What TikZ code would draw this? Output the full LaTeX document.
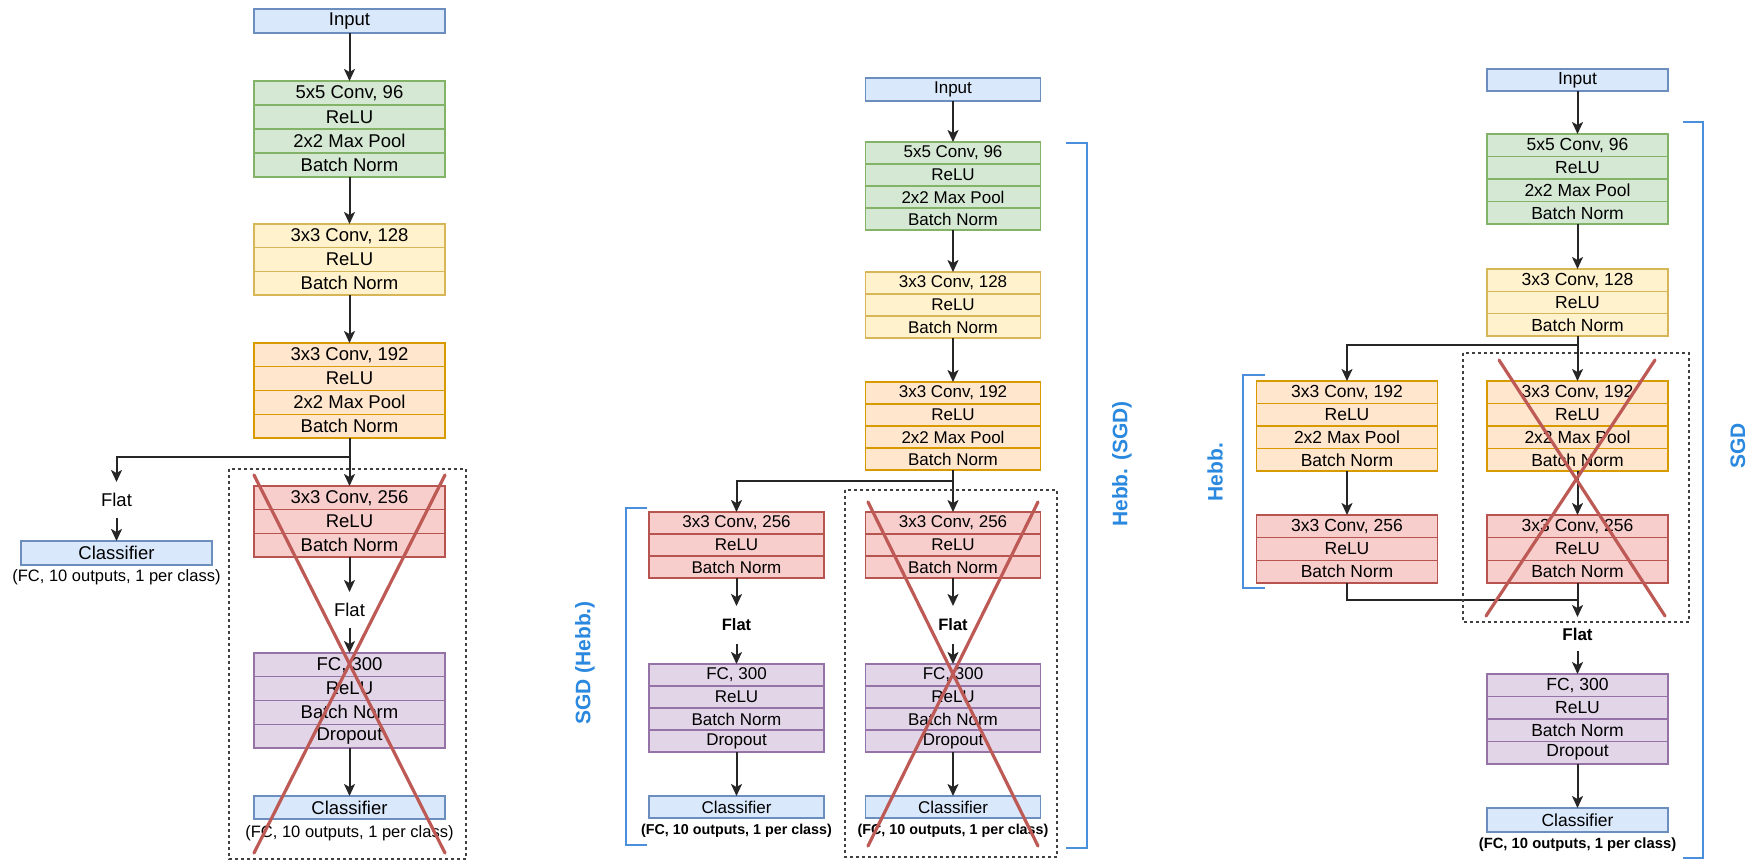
\documentclass[tikz,border=0pt]{standalone}
\usepackage{fontspec}
\setmainfont{Liberation Sans}
\usetikzlibrary{arrows.meta}

\definecolor{inFill}{HTML}{DAE8FC}\definecolor{inLine}{HTML}{6C8EBF}
\definecolor{gFill}{HTML}{D5E8D4}\definecolor{gLine}{HTML}{82B366}
\definecolor{yFill}{HTML}{FFF2CC}\definecolor{yLine}{HTML}{D6B656}
\definecolor{oFill}{HTML}{FFE6CC}\definecolor{oLine}{HTML}{D79B00}
\definecolor{rFill}{HTML}{F8CECC}\definecolor{rLine}{HTML}{B85450}
\definecolor{pFill}{HTML}{E1D5E7}\definecolor{pLine}{HTML}{9673A6}
\definecolor{crossC}{HTML}{BE5A55}
\definecolor{brkC}{HTML}{4A8FDB}
\definecolor{lblC}{HTML}{2A88DF}

\tikzset{
  layer/.style={draw, line width=1.3pt, inner sep=0pt, outer sep=0pt},
  inp/.style={layer, fill=inFill, draw=inLine},
  grn/.style={layer, fill=gFill, draw=gLine},
  ylw/.style={layer, fill=yFill, draw=yLine},
  org/.style={layer, fill=oFill, draw=oLine},
  red/.style={layer, fill=rFill, draw=rLine},
  prp/.style={layer, fill=pFill, draw=pLine},
  flatlbl/.style={inner sep=0pt, outer sep=0pt, minimum width=40pt},
  arr/.style={line width=2pt, draw=black!85, -{Stealth[length=12pt,width=11pt,inset=3pt]}},
  wire/.style={line width=2pt, draw=black!85},
  xout/.style={line width=3.2pt, draw=crossC, line cap=round},
  frame/.style={draw=black!75, line width=1.1pt, dash pattern=on 3pt off 3pt},
  brk/.style={draw=brkC, line width=2.2pt},
  brklbl/.style={text=lblC, font=\bfseries\fontsize{21}{21}\selectfont, rotate=90, inner sep=0pt}
}

% stack of adjacent layer rows: name, style, x centre, top y, width, row height, font size, rows
\newcommand\layerstack[8]{%
  \foreach \t [count=\i] in {#8}{%
    \node[#2, minimum width=#5pt, minimum height=#6pt, font=\fontsize{#7}{#7}\selectfont]
      (#1-\i) at (#3, {#4+(\i-0.5)*#6}) {\t};
  }%
}

\begin{document}
\begin{tikzpicture}[x=1pt, y=-1pt]
\useasboundingbox (0,0) rectangle (1757,861);

% ---------------- first network ----------------
\node[inp, minimum width=191pt, minimum height=24pt, font=\fontsize{18.5}{18.5}\selectfont] (a-in) at (349.5,21) {Input};
\layerstack{a-g}{grn}{349.5}{81}{191}{24}{18.5}{{5x5 Conv, 96},ReLU,{2x2 Max Pool},{Batch Norm}}
\layerstack{a-y}{ylw}{349.5}{224}{191}{23.67}{18.5}{{3x3 Conv, 128},ReLU,{Batch Norm}}
\layerstack{a-o}{org}{349.5}{343}{191}{23.75}{18.5}{{3x3 Conv, 192},ReLU,{2x2 Max Pool},{Batch Norm}}
\layerstack{a-r}{red}{349.5}{486}{191}{23.67}{18.5}{{3x3 Conv, 256},ReLU,{Batch Norm}}
\node[flatlbl, minimum height=36pt, font=\fontsize{18.5}{18.5}\selectfont] (a-flat) at (349.5,610) {Flat};
\layerstack{a-p}{prp}{349.5}{653}{191}{23.75}{18.5}{{FC, 300},ReLU,{Batch Norm},Dropout}
\node[inp, minimum width=191pt, minimum height=23pt, font=\fontsize{18.5}{18.5}\selectfont] (a-cls) at (349.5,807.5) {Classifier};
\node[font=\fontsize{16.5}{16.5}\selectfont, inner sep=0pt] (a-cap) at (349.5,833) {(FC, 10 outputs, 1 per class)};

\node[flatlbl, minimum height=36pt, font=\fontsize{18.5}{18.5}\selectfont] (a-flatL) at (116.5,500) {Flat};
\node[inp, minimum width=191pt, minimum height=24pt, font=\fontsize{18.5}{18.5}\selectfont] (a-clsL) at (116.5,553) {Classifier};
\node[font=\fontsize{16.5}{16.5}\selectfont, inner sep=0pt] (a-capL) at (116.5,577) {(FC, 10 outputs, 1 per class)};

\coordinate (a-split) at (349.5,457);
\draw[arr] (a-in) -- (a-g-1);
\draw[arr] (a-g-4) -- (a-y-1);
\draw[arr] (a-y-3) -- (a-o-1);
\draw[arr] (a-o-4) -- (a-r-1);
\draw[arr] (a-split) -| (a-flatL);
\draw[arr] (a-flatL) -- (a-clsL);
\draw[arr] (a-r-3) -- (a-flat);
\draw[arr] (a-flat) -- (a-p-1);
\draw[arr] (a-p-4) -- (a-cls);

\draw[frame] (229,469) rectangle (466,859);
\coordinate (a-x1) at (254,475); \coordinate (a-x2) at (445,853);
\coordinate (a-x3) at (445,475); \coordinate (a-x4) at (254,853);
\draw[xout] (a-x1) -- (a-x2);
\draw[xout] (a-x3) -- (a-x4);

% ---------------- second network ----------------
\node[inp, minimum width=175pt, minimum height=23pt, font=\fontsize{17}{17}\selectfont] (b-in) at (953,89.5) {Input};
\layerstack{b-g}{grn}{953}{142}{175}{22}{17}{{5x5 Conv, 96},ReLU,{2x2 Max Pool},{Batch Norm}}
\layerstack{b-y}{ylw}{953}{272}{175}{22}{17}{{3x3 Conv, 128},ReLU,{Batch Norm}}
\layerstack{b-o}{org}{953}{382}{175}{22}{17}{{3x3 Conv, 192},ReLU,{2x2 Max Pool},{Batch Norm}}

\foreach \c/\xc in {L/736.5, R/953}{
  \layerstack{b-r\c}{red}{\xc}{512}{175}{22}{17}{{3x3 Conv, 256},ReLU,{Batch Norm}}
  \node[flatlbl, minimum height=38pt, font=\bfseries\fontsize{16.5}{16.5}\selectfont] (b-flat\c) at (\xc,625) {Flat};
  \layerstack{b-p\c}{prp}{\xc}{664}{175}{22}{17}{{FC, 300},ReLU,{Batch Norm},Dropout}
  \node[inp, minimum width=175pt, minimum height=22pt, font=\fontsize{17}{17}\selectfont] (b-cls\c) at (\xc,807) {Classifier};
  \node[font=\bfseries\fontsize{14.3}{14.3}\selectfont, inner sep=0pt] (b-cap\c) at (\xc,831) {(FC, 10 outputs, 1 per class)};
  \draw[arr] (b-r\c-3) -- (b-flat\c);
  \draw[arr] (b-flat\c) -- (b-p\c-1);
  \draw[arr] (b-p\c-4) -- (b-cls\c);
}

\coordinate (b-split) at (953,481);
\draw[arr] (b-in) -- (b-g-1);
\draw[arr] (b-g-4) -- (b-y-1);
\draw[arr] (b-y-3) -- (b-o-1);
\draw[arr] (b-o-4) -- (b-rR-1);
\draw[arr] (b-split) -| (b-rL-1);

\draw[frame] (845,490) rectangle (1057,857);
\coordinate (b-x1) at (868,502); \coordinate (b-x2) at (1038,846);
\coordinate (b-x3) at (1038,502); \coordinate (b-x4) at (868,846);
\draw[xout] (b-x1) -- (b-x2);
\draw[xout] (b-x3) -- (b-x4);

\coordinate (b-bl1) at (647,508); \coordinate (b-bl2) at (626,508);
\coordinate (b-bl3) at (626,845); \coordinate (b-bl4) at (647,845);
\draw[brk] (b-bl1) -- (b-bl2) -- (b-bl3) -- (b-bl4);
\node[brklbl] (b-lblL) at (585,663) {SGD (Hebb.)};

\coordinate (b-br1) at (1066,143); \coordinate (b-br2) at (1087,143);
\coordinate (b-br3) at (1087,848); \coordinate (b-br4) at (1066,848);
\draw[brk] (b-br1) -- (b-br2) -- (b-br3) -- (b-br4);
\node[brklbl] (b-lblR) at (1122,464) {Hebb. (SGD)};

% ---------------- third network ----------------
\node[inp, minimum width=181pt, minimum height=22pt, font=\fontsize{17.5}{17.5}\selectfont] (c-in) at (1577.5,80) {Input};
\layerstack{c-g}{grn}{1577.5}{134}{181}{22.5}{17.5}{{5x5 Conv, 96},ReLU,{2x2 Max Pool},{Batch Norm}}
\layerstack{c-y}{ylw}{1577.5}{269}{181}{22.33}{17.5}{{3x3 Conv, 128},ReLU,{Batch Norm}}
\foreach \c/\xc in {L/1347, R/1577.5}{
  \layerstack{c-o\c}{org}{\xc}{381}{181}{22.5}{17.5}{{3x3 Conv, 192},ReLU,{2x2 Max Pool},{Batch Norm}}
  \layerstack{c-r\c}{red}{\xc}{515}{181}{22.67}{17.5}{{3x3 Conv, 256},ReLU,{Batch Norm}}
  \draw[arr] (c-o\c-4) -- (c-r\c-1);
}
\node[flatlbl, minimum height=34pt, font=\bfseries\fontsize{17}{17}\selectfont] (c-flat) at (1577.5,634) {Flat};
\layerstack{c-p}{prp}{1577.5}{674}{181}{22.5}{17.5}{{FC, 300},ReLU,{Batch Norm},Dropout}
\node[inp, minimum width=181pt, minimum height=24pt, font=\fontsize{17.5}{17.5}\selectfont] (c-cls) at (1577.5,820) {Classifier};
\node[font=\bfseries\fontsize{14.8}{14.8}\selectfont, inner sep=0pt] (c-cap) at (1577.5,845) {(FC, 10 outputs, 1 per class)};

\coordinate (c-split) at (1577.5,345);
\coordinate (c-merge) at (1577.5,600);
\draw[arr] (c-in) -- (c-g-1);
\draw[arr] (c-g-4) -- (c-y-1);
\draw[arr] (c-y-3) -- (c-oR-1);
\draw[arr] (c-split) -| (c-oL-1);
\draw[wire] (c-rL-3) |- (c-merge);
\draw[arr] (c-rR-3) -- (c-flat);
\draw[arr] (c-flat) -- (c-p-1);
\draw[arr] (c-p-4) -- (c-cls);

\draw[frame] (1463,353) rectangle (1689,622);
\coordinate (c-x1) at (1499,360); \coordinate (c-x2) at (1665,616);
\coordinate (c-x3) at (1655,360); \coordinate (c-x4) at (1486,616);
\draw[xout] (c-x1) -- (c-x2);
\draw[xout] (c-x3) -- (c-x4);

\coordinate (c-bl1) at (1265,375); \coordinate (c-bl2) at (1243,375);
\coordinate (c-bl3) at (1243,588); \coordinate (c-bl4) at (1265,588);
\draw[brk] (c-bl1) -- (c-bl2) -- (c-bl3) -- (c-bl4);
\node[brklbl] (c-lblL) at (1215,472) {Hebb.};

\coordinate (c-br1) at (1683,122); \coordinate (c-br2) at (1703,122);
\coordinate (c-br3) at (1703,858); \coordinate (c-br4) at (1683,858);
\draw[brk] (c-br1) -- (c-br2) -- (c-br3) -- (c-br4);
\node[brklbl] (c-lblR) at (1738,446) {SGD};
\end{tikzpicture}
\end{document}
